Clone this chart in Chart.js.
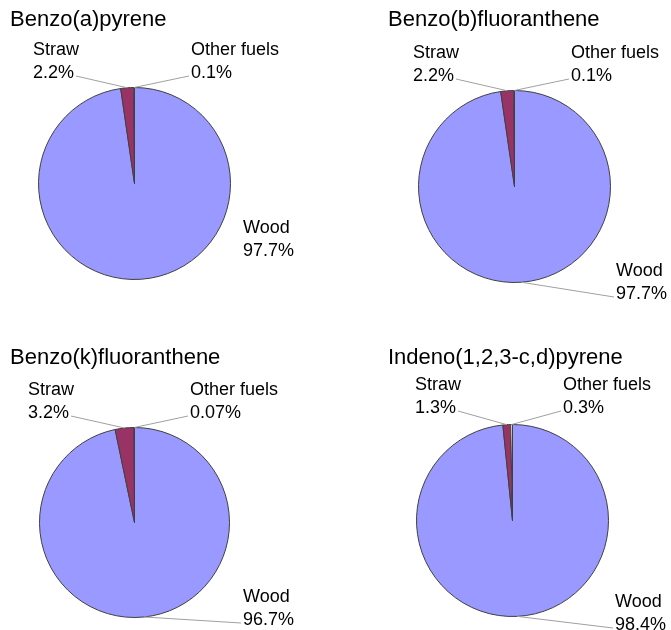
<!DOCTYPE html>
<html>
<head>
<meta charset="utf-8">
<script src="https://cdn.jsdelivr.net/npm/chart.js@4/dist/chart.umd.min.js"></script>
<style>
  body { margin: 0; background: #fff; }
  #wrap { position: relative; width: 671px; height: 630px; }
  #wrap canvas { position: absolute; left: 0; top: 0; }
</style>
</head>
<body>
<div id="wrap">
  <canvas id="c0" width="671" height="630"></canvas>
  <canvas id="c1" width="671" height="630"></canvas>
  <canvas id="c2" width="671" height="630"></canvas>
  <canvas id="c3" width="671" height="630"></canvas>
</div>
<script>
// Data (shares in %)
const fuels = ['Wood', 'Straw', 'Other fuels'];
const compounds = ['Benzo(a)pyrene', 'Benzo(b)fluoranthene', 'Benzo(k)fluoranthene', 'Indeno(1,2,3-c,d)pyrene'];
const bapShares = [97.7, 2.2, 0.1];
const bbfShares = [97.7, 2.2, 0.1];
const bkfShares = [96.7, 3.2, 0.07];
const indShares = [98.4, 1.3, 0.3];
const allShares = [bapShares, bbfShares, bkfShares, indShares];

const fuelColors = ['#9999ff', '#993366', '#ffffcc'];

// where each pie and its texts sit on the page
const layouts = [
    { cx: 134, cy: 183, r: 96, title: [10, 26],
      labels: [[243, 233, false], [33, 55, true], [191, 55, true]] },
    { cx: 514, cy: 186, r: 96, title: [388, 26],
      labels: [[616, 276, true], [413, 58, true], [571, 58, true]] },
    { cx: 134, cy: 522, r: 95, title: [10, 364],
      labels: [[243, 602, true], [28, 395, true], [190, 395, true]] },
    { cx: 512, cy: 520, r: 96, title: [388, 364],
      labels: [[615, 607, true], [415, 390, true], [563, 390, true]] }
];

const FONT = '"Liberation Sans", Arial, Helvetica, sans-serif';

// draws title, slice labels and leader lines
const labelPlugin = {
    id: 'pieLabels',
    afterDraw(chart) {
        const lay = chart.options.plugins.pieLabels.layout;
        const title = chart.options.plugins.pieLabels.title;
        const ctx = chart.ctx;
        const meta = chart.getDatasetMeta(0);
        const values = chart.data.datasets[0].data;
        ctx.save();
        ctx.fillStyle = '#000';
        ctx.textBaseline = 'alphabetic';
        ctx.textAlign = 'left';
        ctx.font = '22px ' + FONT;
        ctx.fillText(title, lay.title[0], lay.title[1]);

        ctx.font = '18px ' + FONT;
        meta.data.forEach(function(arc, i) {
            const [tx, ty, line] = lay.labels[i];
            const pct = values[i] + '%';
            ctx.fillText(chart.data.labels[i], tx, ty);
            ctx.fillText(pct, tx, ty + 23);
            if (!line) return;
            const mid = (arc.startAngle + arc.endAngle) / 2;
            const px = arc.x + Math.cos(mid) * arc.outerRadius;
            const py = arc.y + Math.sin(mid) * arc.outerRadius;
            let sx, sy;
            if (px < tx) {
                sx = tx - 2; sy = ty + 21;
            } else {
                sx = tx + ctx.measureText(pct).width + 2; sy = ty + 21;
            }
            ctx.strokeStyle = '#a0a0a0';
            ctx.lineWidth = 1;
            ctx.beginPath();
            ctx.moveTo(sx, sy);
            ctx.lineTo(px, py);
            ctx.stroke();
        });
        ctx.restore();
    }
};

allShares.forEach(function(shares, k) {
    const lay = layouts[k];
    const size = 2 * lay.r + 1;
    new Chart(document.getElementById('c' + k), {
        type: 'pie',
        data: {
            labels: fuels,
            datasets: [{
                data: shares,
                backgroundColor: fuelColors,
                borderColor: '#404040',
                borderWidth: 1
            }]
        },
        options: {
            responsive: false,
            animation: false,
            layout: {
                padding: {
                    left: lay.cx - lay.r,
                    top: lay.cy - lay.r,
                    right: 671 - (lay.cx - lay.r) - size,
                    bottom: 630 - (lay.cy - lay.r) - size
                }
            },
            plugins: {
                legend: { display: false },
                tooltip: { enabled: false },
                pieLabels: { layout: lay, title: compounds[k] }
            }
        },
        plugins: [labelPlugin]
    });
});
</script>
</body>
</html>
